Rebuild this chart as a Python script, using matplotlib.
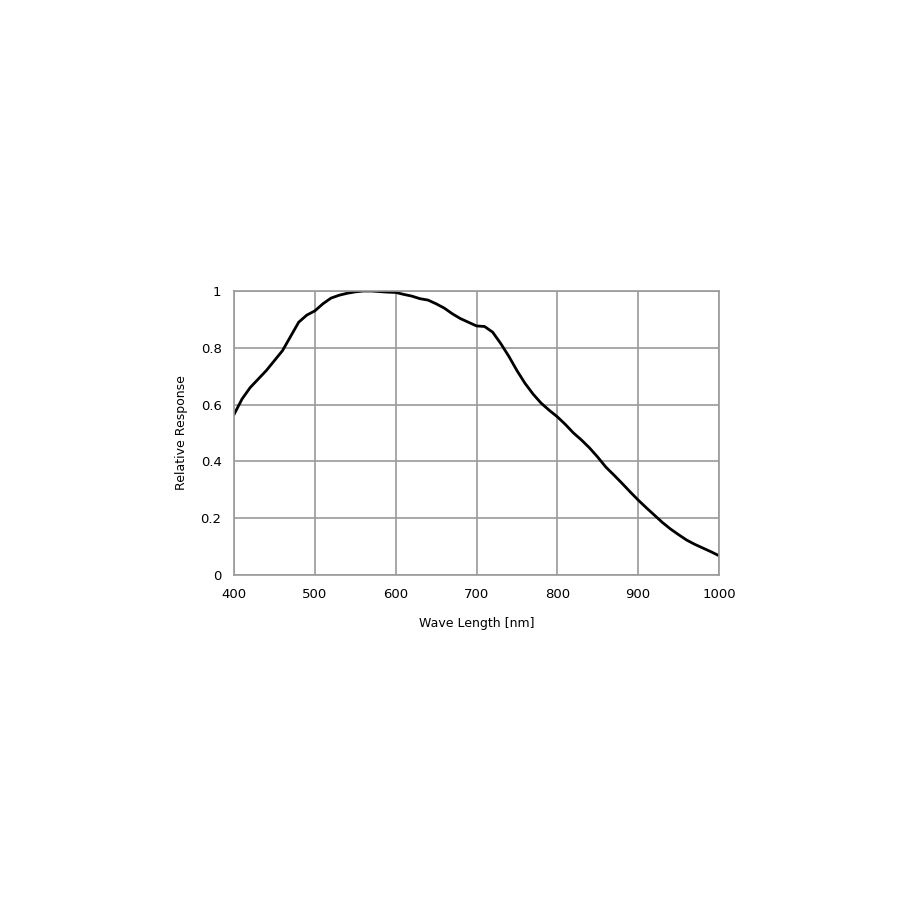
import matplotlib
matplotlib.use("Agg")
import matplotlib.pyplot as plt

wavelength = [400, 410, 420, 430, 440, 450, 460, 470, 480, 490, 500, 510, 520, 530, 540, 550,
              560, 570, 580, 590, 600, 610, 620, 630, 640, 650, 660, 670, 680, 690, 700, 710,
              720, 730, 740, 750, 760, 770, 780, 790, 800, 810, 820, 830, 840, 850, 860, 870,
              880, 890, 900, 910, 920, 930, 940, 950, 960, 970, 980, 990, 1000]
response = [0.565, 0.62, 0.66, 0.69, 0.72, 0.755, 0.79, 0.84, 0.89, 0.915, 0.93, 0.955, 0.975,
            0.985, 0.992, 0.997, 1.0, 1.0, 0.998, 0.996, 0.995, 0.988, 0.982, 0.973, 0.968,
            0.955, 0.94, 0.92, 0.903, 0.89, 0.877, 0.875, 0.855, 0.815, 0.77, 0.72, 0.675,
            0.637, 0.605, 0.58, 0.557, 0.53, 0.50, 0.475, 0.447, 0.415, 0.38, 0.352, 0.323,
            0.293, 0.264, 0.237, 0.211, 0.185, 0.162, 0.142, 0.123, 0.108, 0.095, 0.082, 0.068]

x_ticks = [400, 500, 600, 700, 800, 900, 1000]
y_ticks = [0, 0.2, 0.4, 0.6, 0.8, 1]
y_tick_labels = ["0", "0.2", "0.4", "0.6", "0.8", "1"]

plt.rcParams['font.family'] = ['DejaVu Sans']
fig = plt.figure(figsize=(9.08, 9.08), dpi=100)
ax = fig.add_axes([234/908, 1-575/908, (719-234)/908, (575-291)/908])

ax.plot(wavelength, response, color="black", lw=2.0, solid_joinstyle="round")
ax.set_xlim(400, 1000)
ax.set_ylim(0, 1)
ax.set_xticks(x_ticks)
ax.set_yticks(y_ticks)
ax.set_yticklabels(y_tick_labels)
ax.grid(True, color="#9a9a9a", lw=1.2)
ax.set_axisbelow(True)
for s in ax.spines.values():
    s.set_color("#9a9a9a")
    s.set_linewidth(1.2)
ax.tick_params(length=0, labelsize=9.5, pad=9)
ax.set_xlabel("Wave Length [nm]", fontsize=9, labelpad=12)
ax.set_ylabel("Relative Response", fontsize=9, labelpad=9)

fig.savefig("out.png", dpi=100, facecolor="white")
